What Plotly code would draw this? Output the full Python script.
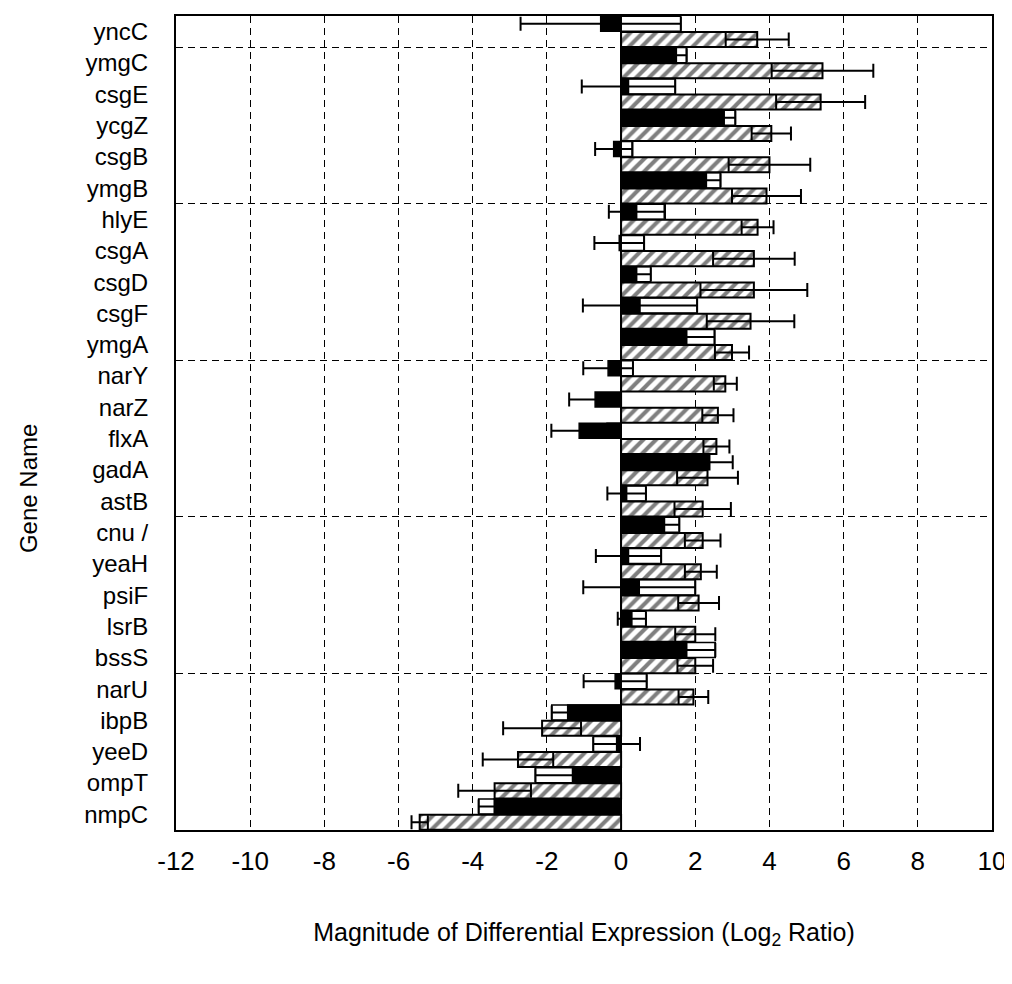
import plotly.graph_objects as go

genes = ["yncC", "ymgC", "csgE", "ycgZ", "csgB", "ymgB", "hlyE", "csgA", "csgD", "csgF",
         "ymgA", "narY", "narZ", "flxA", "gadA", "astB", "cnu /", "yeaH", "psiF", "lsrB",
         "bssS", "narU", "ibpB", "yeeD", "ompT", "nmpC"]

black_vals = [-0.55, 1.49, 0.20, 2.78, -0.20, 2.30, 0.42, -0.05, 0.42, 0.51,
              1.77, -0.35, -0.70, -1.13, 2.39, 0.15, 1.17, 0.20, 0.49, 0.29,
              1.77, -0.16, -1.44, -0.12, -1.31, -3.42]
white_vals = [1.61, 1.76, 1.46, 3.08, 0.31, 2.68, 1.19, 0.62, 0.80, 2.05,
              2.52, 0.32, 0.00, -0.38, 1.77, 0.67, 1.57, 1.08, 2.00, 0.67,
              2.54, 0.69, -1.87, -0.75, -2.31, -3.84]
black_err = [2.16, 0.28, 1.26, 0.30, 0.50, 0.38, 0.75, 0.67, 0.38, 1.54,
             0.75, 0.67, 0.70, 0.75, 0.62, 0.52, 0.40, 0.88, 1.51, 0.38,
             0.77, 0.85, 0.43, 0.63, 1.00, 0.42]
hatched_vals = [3.67, 5.43, 5.38, 4.05, 4.00, 3.92, 3.68, 3.58, 3.58, 3.49,
                2.99, 2.81, 2.61, 2.57, 2.33, 2.20, 2.20, 2.15, 2.09, 2.00,
                2.00, 1.95, -2.13, -2.78, -3.41, -5.43]
hatched_err = [0.85, 1.37, 1.20, 0.53, 1.10, 0.93, 0.43, 1.10, 1.44, 1.18,
               0.46, 0.31, 0.42, 0.35, 0.82, 0.76, 0.48, 0.43, 0.55, 0.54,
               0.48, 0.40, 1.05, 0.95, 0.98, 0.22]

x_ticks = [-12, -10, -8, -6, -4, -2, 0, 2, 4, 6, 8, 10]

pos = list(range(len(genes)))
FONT = "Liberation Sans, Arial, sans-serif"

fig = go.Figure()

# white (behind black) - top half of each category
fig.add_trace(go.Bar(
    y=pos, x=white_vals, orientation="h", offset=-0.49, width=0.48,
    marker=dict(color="white", line=dict(color="black", width=1.5)),
    showlegend=False, hoverinfo="x"))

# black bars with error bars
fig.add_trace(go.Bar(
    y=pos, x=black_vals, orientation="h", offset=-0.49, width=0.48,
    marker=dict(color="black", line=dict(color="black", width=1.5)),
    error_x=dict(type="data", array=black_err, symmetric=True,
                 color="black", thickness=2, width=7),
    showlegend=False, hoverinfo="x"))

# hatched bars - bottom half
fig.add_trace(go.Bar(
    y=pos, x=hatched_vals, orientation="h", offset=0.01, width=0.48,
    marker=dict(color="white", line=dict(color="black", width=2),
                pattern=dict(shape="/", fgcolor="black", bgcolor="white",
                             size=9, solidity=0.45)),
    error_x=dict(type="data", array=hatched_err, symmetric=True,
                 color="black", thickness=2, width=7),
    showlegend=False, hoverinfo="x"))

# "Gene Name" axis title (placed as in reference, lower than centre)
fig.add_annotation(text="Gene Name", textangle=-90, xref="paper", yref="paper",
                   x=-0.18, y=0.419, xanchor="center", yanchor="middle",
                   showarrow=False, font=dict(family=FONT, size=24, color="black"))

fig.update_layout(
    width=1012, height=984,
    margin=dict(l=168, r=28, t=6, b=162),
    paper_bgcolor="white", plot_bgcolor="white",
    barmode="overlay",
    font=dict(family=FONT, size=24, color="black"),
    xaxis=dict(
        range=[-12, 10], tickvals=x_ticks, ticktext=[str(v) for v in x_ticks],
        showgrid=True, gridcolor="black", gridwidth=1, griddash="7px,5px",
        zeroline=True, zerolinecolor="black", zerolinewidth=2,
        showline=True, linecolor="black", linewidth=2, mirror=True,
        ticks="", ticklabelstandoff=7,
        tickfont=dict(family=FONT, size=26, color="black"),
        title=dict(text="Magnitude of Differential Expression (Log<sub>2</sub> Ratio)",
                   font=dict(family=FONT, size=25, color="black"), standoff=48),
    ),
    yaxis=dict(
        range=[len(genes) - 0.5, -0.5], tickmode="array", tickvals=pos, ticktext=genes,
        showgrid=False, zeroline=False,
        showline=True, linecolor="black", linewidth=2, mirror=True,
        ticks="", ticklabelstandoff=21,
        tickfont=dict(family=FONT, size=24, color="black"),
        minor=dict(tickmode="array",
                   tickvals=[p + 0.5 for p in pos if p % 5 == 0 and p < len(genes) - 1],
                   showgrid=True, gridcolor="black", gridwidth=1, griddash="7px,5px",
                   ticks=""),
    ),
)

fig.write_html("out.html")
